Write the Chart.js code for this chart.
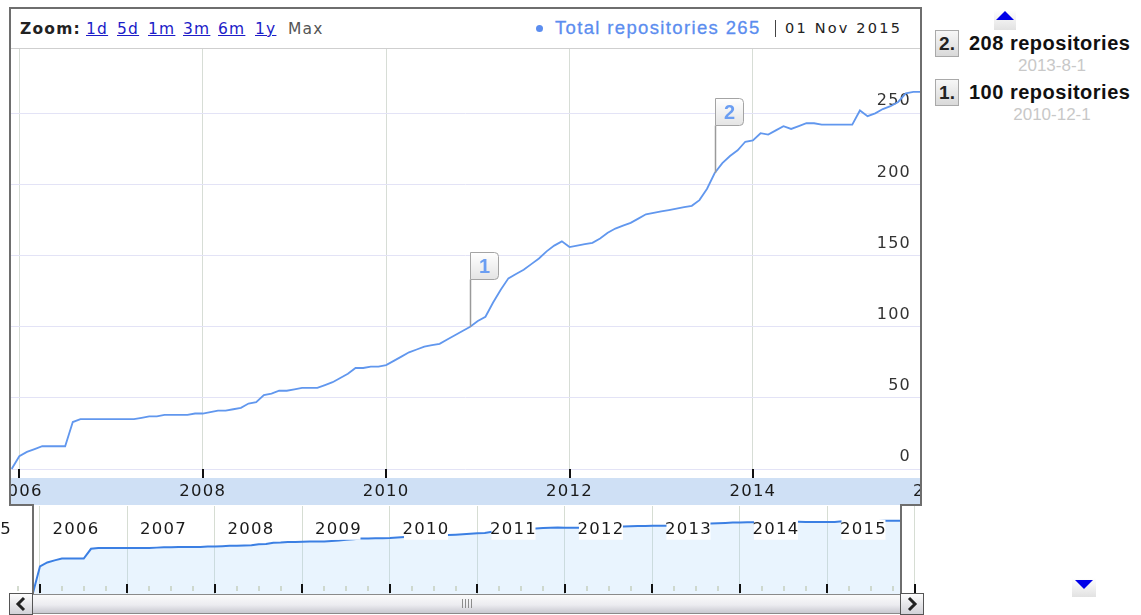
<!DOCTYPE html>
<html>
<head>
<meta charset="utf-8">
<script src="https://cdn.jsdelivr.net/npm/chart.js@4.4.1/dist/chart.umd.min.js"></script>
<style>
body { margin: 0; background: #fff; width: 1141px; height: 615px; overflow: hidden; position: relative; font-family: 'DejaVu Sans', sans-serif; }
.a { position: absolute; }
.frame { position: absolute; background: #6e6e6e; }
.zl { position: absolute; top: 20px; font-size: 15.5px; letter-spacing: 1.2px; color: #1c1cc8; text-decoration: underline; line-height: 18px; }
.lbox { position: absolute; width: 22px; height: 25px; border: 1px solid #a9a9a9; background: linear-gradient(#f7f7f7, #d9d9d9); font: bold 19px 'Liberation Sans', Arial, sans-serif; color: #222; line-height: 25px; text-align: center; }
.ltxt { position: absolute; left: 969px; font: bold 20px 'Liberation Sans', Arial, sans-serif; letter-spacing: 0.5px; color: #111; line-height: 24px; }
.ldate { position: absolute; left: 969px; width: 166px; text-align: center; font: 17px 'Liberation Sans', Arial, sans-serif; color: #c8c8c8; line-height: 20px; }
.btn { position: absolute; top: 593px; width: 22px; height: 20px; border: 1px solid #555; background: linear-gradient(#fdfdfd, #d2d2d8); }
</style>
</head>
<body>

<canvas id="nav" class="a" style="left:0;top:506px" width="921" height="88"></canvas>
<canvas id="main" class="a" style="left:11px;top:49px" width="909" height="456"></canvas>

<!-- header -->
<div class="a" style="left:11px;top:9px;width:909px;height:39px;background:#fff;border-bottom:1px solid #cfcfcf"></div>
<div class="a" style="left:20px;top:20px;font-weight:bold;font-size:15.5px;letter-spacing:1.2px;color:#222;line-height:18px">Zoom:</div>
<div class="zl" style="left:86px">1d</div>
<div class="zl" style="left:117px">5d</div>
<div class="zl" style="left:148px">1m</div>
<div class="zl" style="left:183px">3m</div>
<div class="zl" style="left:218px">6m</div>
<div class="zl" style="left:255px">1y</div>
<div class="a" style="left:288px;top:20px;font-size:15.5px;letter-spacing:1.2px;color:#555;line-height:18px">Max</div>
<div class="a" style="left:536px;top:25px;width:7px;height:7px;border-radius:50%;background:#5b8def"></div>
<div id="seriesText" class="a" style="left:555px;top:17px;font:18.5px 'Liberation Sans',Arial,sans-serif;letter-spacing:1.35px;color:#5b8def;line-height:22px;-webkit-text-stroke:0.3px #5b8def"></div>
<div class="a" style="left:775px;top:20px;width:1px;height:17px;background:#444"></div>
<div id="dateText" class="a" style="left:785px;top:19px;font-size:14.5px;letter-spacing:2.2px;color:#222;line-height:18px"></div>

<!-- frame -->
<div class="frame" style="left:9px;top:7px;width:913px;height:2px"></div>
<div class="frame" style="left:9px;top:7px;width:2px;height:499px"></div>
<div class="frame" style="left:920px;top:7px;width:2px;height:499px"></div>
<div class="frame" style="left:9px;top:504px;width:25px;height:2px"></div>
<div class="frame" style="left:32px;top:504px;width:2px;height:90px"></div>
<div class="frame" style="left:900px;top:504px;width:22px;height:2px"></div>
<div class="frame" style="left:900px;top:504px;width:2px;height:90px"></div>

<!-- scrollbar -->
<div class="a" style="left:33px;top:594px;width:868px;height:18px;border-top:1px solid #8a8a8a;border-bottom:1px solid #8a8a8a;background:linear-gradient(#fbfbfb, #ececf0 55%, #c8c8d0)"></div>
<div class="a" style="left:462px;top:599px;width:12px;height:9px;background:repeating-linear-gradient(90deg,#8c8c8c 0 1px,transparent 1px 3px)"></div>
<div class="btn" style="left:9px">
  <svg width="22" height="20"><polyline points="14,4 8,10 14,16" fill="none" stroke="#222" stroke-width="3"/></svg>
</div>
<div class="btn" style="left:900px">
  <svg width="22" height="20"><polyline points="8,4 14,10 8,16" fill="none" stroke="#222" stroke-width="3"/></svg>
</div>

<!-- annotation list -->
<div class="a" style="left:994px;top:10px;width:22px;height:20px;background:linear-gradient(#fff,#e2e2e2)"></div>
<div class="a" style="left:996px;top:11px;width:0;height:0;border-left:9px solid transparent;border-right:9px solid transparent;border-bottom:9px solid #0000e8"></div>
<div class="a" style="left:1072px;top:578px;width:24px;height:19px;background:linear-gradient(#fff,#e2e2e2)"></div>
<div class="a" style="left:1075px;top:580px;width:0;height:0;border-left:9px solid transparent;border-right:9px solid transparent;border-top:9px solid #0000e8"></div>
<div id="annList"></div>

<script>
const months = [
  '2005-12',
  '2006-01', '2006-02', '2006-03', '2006-04', '2006-05', '2006-06', '2006-07', '2006-08', '2006-09', '2006-10', '2006-11', '2006-12',
  '2007-01', '2007-02', '2007-03', '2007-04', '2007-05', '2007-06', '2007-07', '2007-08', '2007-09', '2007-10', '2007-11', '2007-12',
  '2008-01', '2008-02', '2008-03', '2008-04', '2008-05', '2008-06', '2008-07', '2008-08', '2008-09', '2008-10', '2008-11', '2008-12',
  '2009-01', '2009-02', '2009-03', '2009-04', '2009-05', '2009-06', '2009-07', '2009-08', '2009-09', '2009-10', '2009-11', '2009-12',
  '2010-01', '2010-02', '2010-03', '2010-04', '2010-05', '2010-06', '2010-07', '2010-08', '2010-09', '2010-10', '2010-11', '2010-12',
  '2011-01', '2011-02', '2011-03', '2011-04', '2011-05', '2011-06', '2011-07', '2011-08', '2011-09', '2011-10', '2011-11', '2011-12',
  '2012-01', '2012-02', '2012-03', '2012-04', '2012-05', '2012-06', '2012-07', '2012-08', '2012-09', '2012-10', '2012-11', '2012-12',
  '2013-01', '2013-02', '2013-03', '2013-04', '2013-05', '2013-06', '2013-07', '2013-08', '2013-09', '2013-10', '2013-11', '2013-12',
  '2014-01', '2014-02', '2014-03', '2014-04', '2014-05', '2014-06', '2014-07', '2014-08', '2014-09', '2014-10', '2014-11', '2014-12',
  '2015-01', '2015-02', '2015-03', '2015-04', '2015-05', '2015-06', '2015-07', '2015-08', '2015-09', '2015-10', '2015-11'
];

const repos = [
  0,
  9, 12, 14, 16, 16, 16, 16, 33, 35, 35, 35, 35,
  35, 35, 35, 35, 36, 37, 37, 38, 38, 38, 38, 39,
  39, 40, 41, 41, 42, 43, 46, 47, 52, 53, 55, 55,
  56, 57, 57, 57, 59, 61, 64, 67, 71, 71, 72, 72,
  73, 76, 79, 82, 84, 86, 87, 88, 91, 94, 97, 100,
  104, 107, 117, 126, 134, 137, 140, 144, 148, 153, 157, 160,
  156, 157, 158, 159, 162, 166, 169, 171, 173, 176, 179, 180,
  181, 182, 183, 184, 185, 189, 197, 208, 215, 220, 224, 230,
  231, 236, 235, 238, 241, 239, 241, 243, 243, 242, 242, 242,
  242, 242, 252, 248, 250, 253, 255, 258, 264, 265, 265
];

const seriesName = 'Total repositories';
const flagMonths = ['2010-12', '2013-08'];
const flagLabels = ['1', '2'];
const flagDates = ['2010-12-1', '2013-8-1'];
const yTicks = [0, 50, 100, 150, 200, 250];
const mainYears = [2006, 2008, 2010, 2012, 2014, 2016];
const navYears = [2005, 2006, 2007, 2008, 2009, 2010, 2011, 2012, 2013, 2014, 2015, 2016];
const monthNames = ['Jan', 'Feb', 'Mar', 'Apr', 'May', 'Jun', 'Jul', 'Aug', 'Sep', 'Oct', 'Nov', 'Dec'];

const NAV_MIN = 1.16; // floor of the log axis in the navigator

const toYear = m => {
    const [y, mo] = m.split('-').map(Number);
    return y + (mo - 1) / 12;
};
const points = months.map((m, i) => ({ x: toYear(m), y: repos[i] }));
// a log axis can't place 0, so a zero sits on the axis floor
const navPoints = months.map((m, i) => ({ x: toYear(m), y: repos[i] > 0 ? repos[i] : NAV_MIN }));

// header texts
const last = months[months.length - 1].split('-').map(Number);
document.getElementById('seriesText').textContent = seriesName + ' ' + repos[repos.length - 1];
document.getElementById('dateText').textContent = '01 ' + monthNames[last[1] - 1] + ' ' + last[0];

// annotation list, newest first
const list = document.getElementById('annList');
flagMonths.slice().reverse().forEach((m, k) => {
    const idx = flagMonths.length - 1 - k;
    const top = 30 + k * 49;
    list.insertAdjacentHTML('beforeend',
        '<div class="lbox" style="left:935px;top:' + top + 'px">' + flagLabels[idx] + '.</div>' +
        '<div class="ltxt" style="top:' + (top + 1) + 'px">' + repos[months.indexOf(m)] + ' repositories</div>' +
        '<div class="ldate" style="top:' + (top + 26) + 'px">' + flagDates[idx] + '</div>');
});

const spacing = px => ({ id: 'spacing', beforeDraw(c) { c.ctx.letterSpacing = px; } });

const band = {
    id: 'band',
    beforeDraw(c) {
        const s = c.scales.x;
        c.ctx.save();
        c.ctx.fillStyle = '#cfe0f5';
        c.ctx.fillRect(0, s.top, c.width, s.bottom - s.top);
        c.ctx.restore();
    }
};

const mainTicks = {
    id: 'mainTicks',
    afterDraw(c) {
        const s = c.scales.x, a = c.chartArea, ctx = c.ctx;
        ctx.save();
        ctx.strokeStyle = '#111';
        ctx.lineWidth = 2;
        s.ticks.forEach(t => {
            const px = Math.round(s.getPixelForValue(t.value));
            if (px < a.left || px > a.right) return;
            ctx.beginPath();
            ctx.moveTo(px, a.bottom - 9);
            ctx.lineTo(px, a.bottom);
            ctx.stroke();
        });
        ctx.restore();
    }
};

const flags = {
    id: 'flags',
    afterDatasetsDraw(c) {
        const xs = c.scales.x, ys = c.scales.y, ctx = c.ctx;
        flagMonths.forEach((m, k) => {
            const px = Math.round(xs.getPixelForValue(toYear(m))) + 0.5;
            const py = ys.getPixelForValue(repos[months.indexOf(m)]);
            const top = Math.round(py - 48 - 27) + 0.5;
            ctx.save();
            ctx.strokeStyle = '#9a9a9a';
            ctx.lineWidth = 1.5;
            ctx.beginPath();
            ctx.moveTo(px, py);
            ctx.lineTo(px, top + 27);
            ctx.stroke();
            const g = ctx.createLinearGradient(0, top, 0, top + 27);
            g.addColorStop(0, '#ffffff');
            g.addColorStop(1, '#e4e4e4');
            ctx.beginPath();
            ctx.roundRect(px, top, 28, 27, [0, 4, 4, 0]);
            ctx.fillStyle = g;
            ctx.fill();
            ctx.strokeStyle = '#a4a4a4';
            ctx.lineWidth = 1;
            ctx.stroke();
            ctx.letterSpacing = '0px';
            ctx.fillStyle = '#6b9ef2';
            ctx.font = 'bold 20px "Liberation Sans", Arial, sans-serif';
            ctx.textAlign = 'center';
            ctx.textBaseline = 'middle';
            ctx.fillText(flagLabels[k], px + 14, top + 14.5);
            ctx.restore();
        });
    }
};

const navTicks = {
    id: 'navTicks',
    afterDraw(c) {
        const s = c.scales.x, a = c.chartArea, ctx = c.ctx;
        ctx.save();
        s.ticks.forEach(t => {
            [0.25, 0.5, 0.75].forEach(q => {
                const px = Math.round(s.getPixelForValue(t.value + q));
                ctx.strokeStyle = '#c6cfbf';
                ctx.lineWidth = 1.5;
                ctx.beginPath();
                ctx.moveTo(px, a.bottom - 8);
                ctx.lineTo(px, a.bottom - 3);
                ctx.stroke();
            });
            const px = Math.round(s.getPixelForValue(t.value));
            ctx.strokeStyle = '#111';
            ctx.lineWidth = 2;
            ctx.beginPath();
            ctx.moveTo(px, a.bottom - 10);
            ctx.lineTo(px, a.bottom - 1);
            ctx.stroke();
        });
        ctx.restore();
    }
};

const axisFont = { family: 'DejaVu Sans', size: 16.5 };

new Chart(document.getElementById('main'), {
    type: 'line',
    data: {
        datasets: [{
            data: points,
            borderColor: '#6197ee',
            borderWidth: 1.8,
            pointRadius: 0,
            tension: 0
        }]
    },
    options: {
        responsive: false,
        animation: false,
        events: [],
        plugins: { legend: { display: false }, tooltip: { enabled: false } },
        scales: {
            x: {
                type: 'linear',
                position: 'bottom',
                min: 2005.9095,
                max: 2015.822,
                afterBuildTicks: s => { s.ticks = mainYears.map(v => ({ value: v })); },
                afterFit: s => { s.height = 27; s.paddingLeft = 0; s.paddingRight = 0; },
                grid: { color: '#d7ddd6', drawTicks: false },
                border: { display: false },
                ticks: {
                    autoSkip: false,
                    maxRotation: 0,
                    padding: 4,
                    color: '#1a1a1a',
                    font: axisFont,
                    callback: v => String(v)
                }
            },
            y: {
                type: 'linear',
                position: 'right',
                min: -6.32,
                max: 295.2,
                afterBuildTicks: s => { s.ticks = yTicks.map(v => ({ value: v })); },
                afterFit: s => { s.width = 0; s.paddingTop = 0; s.paddingBottom = 0; },
                grid: { color: '#e3e3f6', drawTicks: false },
                border: { display: false },
                ticks: {
                    mirror: true,
                    padding: -9,
                    labelOffset: -12,
                    color: '#333',
                    font: { family: 'DejaVu Sans', size: 16 },
                    callback: v => String(v)
                }
            }
        }
    },
    plugins: [spacing('1.2px'), band, mainTicks, flags]
});

new Chart(document.getElementById('nav'), {
    type: 'line',
    data: {
        datasets: [{
            data: navPoints,
            borderColor: '#3b7fe3',
            borderWidth: 2,
            pointRadius: 0,
            tension: 0,
            fill: 'start',
            backgroundColor: 'rgba(175,215,250,0.28)'
        }]
    },
    options: {
        responsive: false,
        animation: false,
        events: [],
        plugins: { legend: { display: false }, tooltip: { enabled: false } },
        scales: {
            x: {
                type: 'linear',
                position: 'top',
                min: 2005.543,
                max: 2016.069,
                afterBuildTicks: s => { s.ticks = navYears.map(v => ({ value: v })); },
                afterFit: s => { s.height = 0; s.paddingLeft = 0; s.paddingRight = 0; },
                grid: { color: '#d6ddd3', drawTicks: false },
                border: { display: false },
                ticks: {
                    mirror: true,
                    padding: 14,
                    labelOffset: 36,
                    z: 1,
                    autoSkip: false,
                    maxRotation: 0,
                    showLabelBackdrop: true,
                    backdropColor: '#fff',
                    backdropPadding: { x: 1, y: 0 },
                    color: '#1a1a1a',
                    font: axisFont,
                    callback: v => String(v)
                }
            },
            y: {
                type: 'logarithmic',
                min: NAV_MIN,
                max: 786,
                display: false
            }
        }
    },
    plugins: [spacing('1.2px'), navTicks]
});
</script>
</body>
</html>
